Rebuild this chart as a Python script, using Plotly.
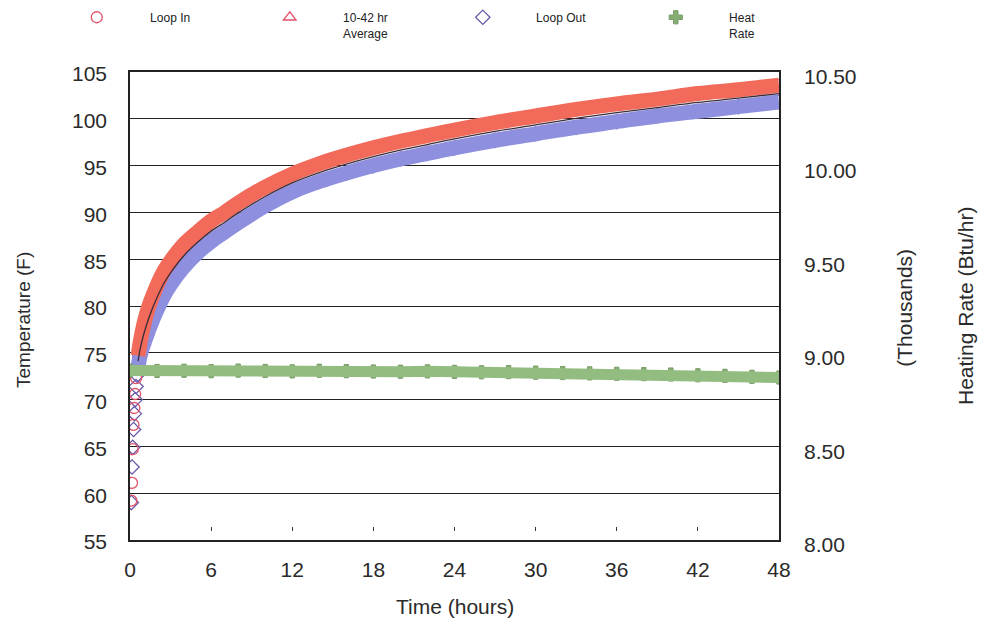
import plotly.graph_objects as go

# Elapsed time of each reading (hours)
hours = [0.10, 0.15, 0.20, 0.26, 0.32, 0.38, 0.45, 0.52,
         0.6, 0.75, 1.0, 1.25, 1.5, 2.0, 2.5, 3.0, 4, 5, 6, 7, 8,
         10, 12, 14, 16, 18, 20, 22, 24, 27, 30, 33, 36, 39, 42, 45, 48]

# Loop inlet / outlet fluid temperature (F)
loop_in = [59.2, 61.1, 64.7, 67.3, 69.1, 70.6, 72.3, 73.6,
           74.7, 76.1, 77.9, 79.3, 80.4, 82.2, 83.7, 84.8, 86.6, 87.9, 89.1, 90.0, 91.0,
           92.7, 94.1, 95.2, 96.1, 96.9, 97.6, 98.2, 98.8, 99.6, 100.3, 101.0, 101.6, 102.1, 102.7, 103.1, 103.6]
loop_out = [59.0, 62.8, 64.9, 66.8, 68.5, 70.0, 71.4, 72.6,
            73.5, 74.7, 75.9, 76.9, 77.9, 79.6, 81.1, 82.3, 84.2, 85.7, 86.9, 87.9, 88.9,
            90.7, 92.2, 93.3, 94.2, 95.0, 95.7, 96.3, 96.9, 97.7, 98.4, 99.1, 99.7, 100.3, 100.8, 101.3, 101.8]

# Heat input (thousands of Btu/hr)
hr_hours = [0, 2, 4, 6, 8, 10, 12, 14, 16, 18, 20, 22, 24,
            26, 28, 30, 32, 34, 36, 38, 40, 42, 44, 46, 48]
heat_rate = [8.905, 8.903, 8.904, 8.902, 8.905, 8.903, 8.901, 8.904, 8.902, 8.900, 8.899, 8.901, 8.898,
             8.896, 8.897, 8.894, 8.892, 8.890, 8.888, 8.886, 8.884, 8.880, 8.877, 8.872, 8.868]

x_ticks = [0, 6, 12, 18, 24, 30, 36, 42, 48]
minor_x_ticks = [6, 12, 18, 24, 30, 36, 42]

# readings before the loop settles are drawn as individual symbols only
settle = 8
avg_temp = [(a + b) / 2 for a, b in zip(loop_in, loop_out)]

RED = "#f26a5a"
BLUE = "#8e8fde"
GREEN = "#93bd80"
FONT = "Liberation Sans, Arial, sans-serif"

fig = go.Figure()

# symbols first, so the dense stretch of readings merges into solid bands on top
fig.add_trace(go.Scatter(x=hr_hours, y=heat_rate, mode="markers", xaxis="x2", yaxis="y2",
                         name="Heat<br>Rate",
                         marker=dict(symbol="cross", size=11, color="#86ae73",
                                     line=dict(color="#7a9c68", width=1))))
fig.add_trace(go.Scatter(x=hours, y=loop_out, mode="markers", name="Loop Out",
                         marker=dict(symbol="diamond-open", size=11, color="#6a5aa8",
                                     line=dict(width=1.3))))
fig.add_trace(go.Scatter(x=hours, y=loop_in, mode="markers", name="Loop In",
                         marker=dict(symbol="circle-open", size=11, color="#e2506a",
                                     line=dict(width=1.3))))

fig.add_trace(go.Scatter(x=hr_hours, y=heat_rate, mode="lines", xaxis="x2", yaxis="y2",
                         line=dict(color=GREEN, width=11), showlegend=False, hoverinfo="skip"))
fig.add_trace(go.Scatter(x=hours[settle:], y=loop_out[settle:], mode="lines",
                         line=dict(color=BLUE, width=15, shape="spline"),
                         showlegend=False, hoverinfo="skip"))
fig.add_trace(go.Scatter(x=hours[settle:], y=loop_in[settle:], mode="lines",
                         line=dict(color=RED, width=15, shape="spline"),
                         showlegend=False, hoverinfo="skip"))

# mean loop temperature
fig.add_trace(go.Scatter(x=hours[settle:], y=avg_temp[settle:], mode="lines",
                         line=dict(color="#3c2c38", width=1.3, shape="spline"),
                         name="10-42 hr<br>Average", showlegend=False, hoverinfo="skip"))

# legend entry for the average
fig.add_trace(go.Scatter(x=[None], y=[None], mode="markers", name="10-42 hr<br>Average",
                         marker=dict(symbol="triangle-up-open", size=11, color="#e2506a",
                                     line=dict(width=1.3))))

pad = "&nbsp;" * 10
order = ["Loop In", "10-42 hr<br>Average", "Loop Out", "Heat<br>Rate"]
rank = {n: i for i, n in enumerate(order)}
for tr in fig.data:
    if tr.showlegend is not False and tr.name in rank:
        tr.legendrank = rank[tr.name] + 1
        tr.name = "<br>".join(pad + part for part in tr.name.split("<br>"))

fig.update_layout(
    width=985, height=622,
    margin=dict(l=130, r=206, t=72, b=82, autoexpand=False),
    paper_bgcolor="white", plot_bgcolor="white",
    font=dict(family=FONT, color="#2a2a2a", size=22),
    showlegend=True,
    legend=dict(orientation="h", x=-0.082, xanchor="left", y=1.1475, yanchor="top",
                valign="top", entrywidth=148, entrywidthmode="pixels",
                font=dict(size=12, color="#222"), traceorder="normal",
                bgcolor="rgba(0,0,0,0)"),
    xaxis=dict(range=[0, 48], tickvals=x_ticks, ticks="", showgrid=False, zeroline=False,
               showline=True, linecolor="#222", linewidth=1.5, mirror=True,
               tickfont=dict(size=21), ticklabelstandoff=10),
    yaxis=dict(range=[55, 105], tick0=55, dtick=5, ticks="", zeroline=False,
               showgrid=True, gridcolor="#222", gridwidth=1.3,
               showline=True, linecolor="#222", linewidth=1.5, mirror=True,
               tickfont=dict(size=21), ticklabelstandoff=17, ticklabelshift=2),
    xaxis2=dict(range=[0, 48], overlaying="x", anchor="free", position=0.019, side="bottom",
                tickvals=minor_x_ticks, ticks="inside", ticklen=4, tickwidth=1.4,
                tickcolor="#333", showticklabels=False, showline=False,
                showgrid=False, zeroline=False),
    yaxis2=dict(range=[8, 10.5], dtick=0.5, tick0=8, tickformat=".2f", overlaying="y",
                side="right", anchor="x2", showgrid=False, zeroline=False, ticks="",
                showline=False, tickfont=dict(size=21), ticklabelstandoff=24,
                ticklabelshift=5),
    annotations=[
        dict(text="Temperature (F)", xref="paper", yref="paper", x=-0.165, y=0.47,
             xanchor="center", yanchor="middle",
             textangle=-90, showarrow=False, font=dict(size=19)),
        dict(text="(Thousands)", xref="paper", yref="paper", x=1.194, y=0.496,
             xanchor="center", yanchor="middle",
             textangle=-90, showarrow=False, font=dict(size=21)),
        dict(text="Heating Rate (Btu/hr)", xref="paper", yref="paper", x=1.2866, y=0.5,
             xanchor="center", yanchor="middle",
             textangle=-90, showarrow=False, font=dict(size=21)),
        dict(text="Time (hours)", xref="paper", yref="paper", x=0.5, y=-0.143,
             xanchor="center", yanchor="middle",
             showarrow=False, font=dict(size=21)),
    ],
)

fig.write_html("out.html")
